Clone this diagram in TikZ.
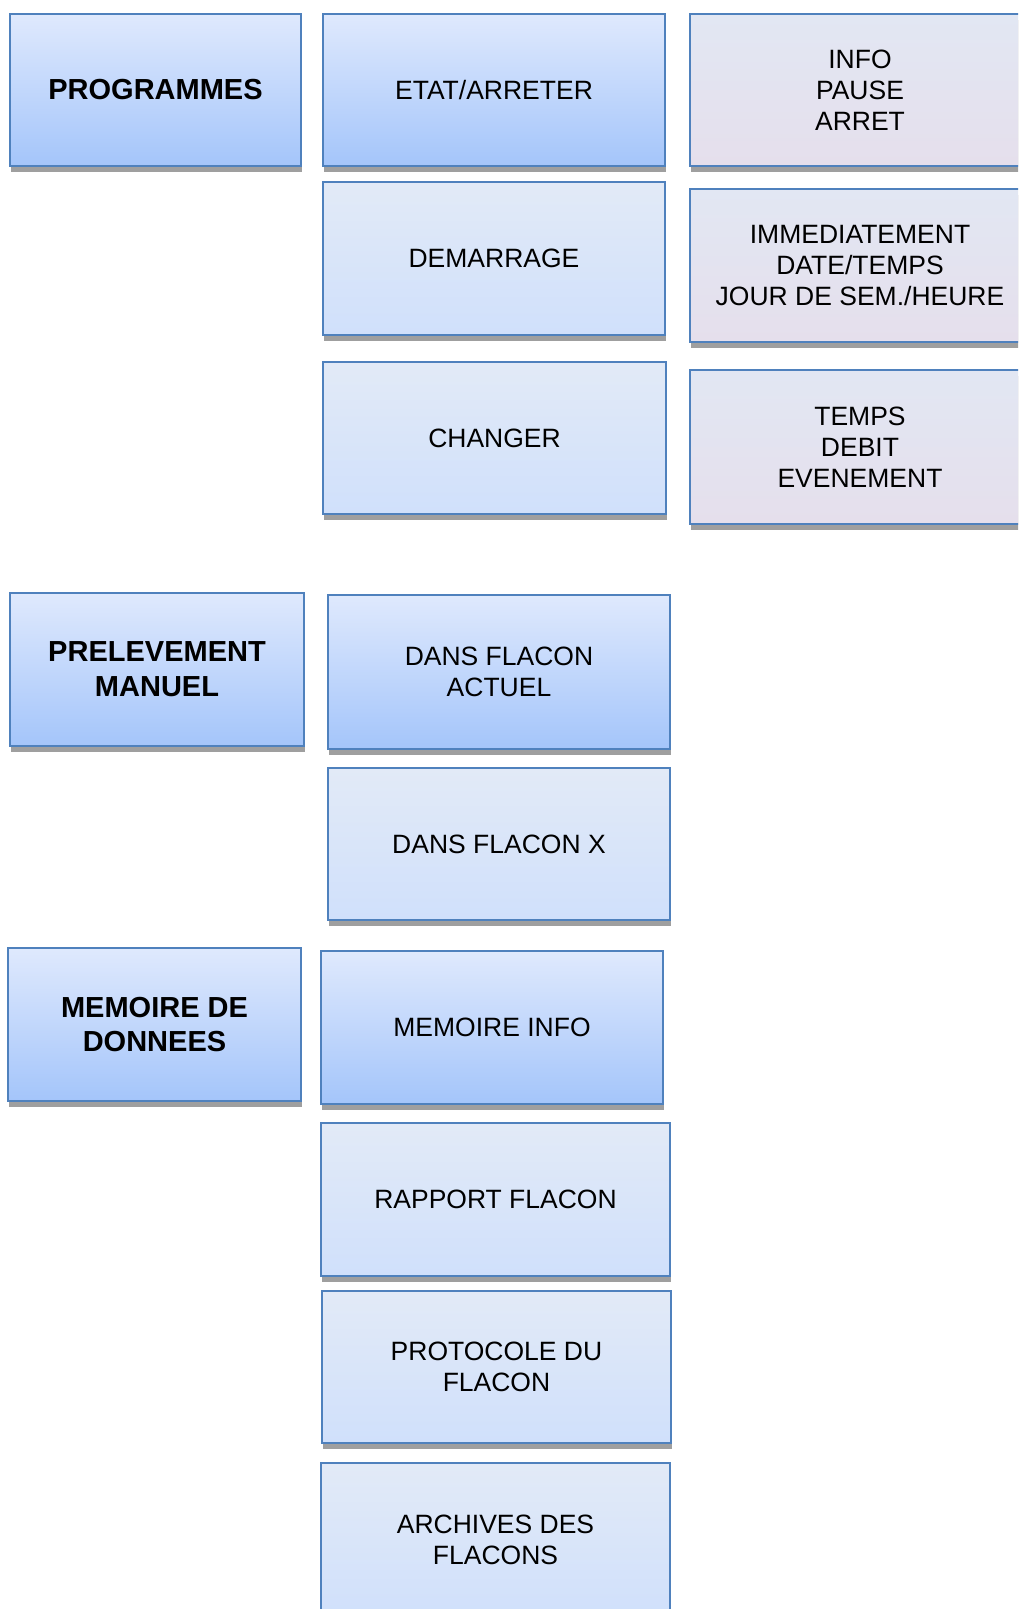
\documentclass[tikz,border=0pt]{standalone}
\usepackage{fontspec}
\setmainfont{Liberation Sans}
\usetikzlibrary{shadows}

\definecolor{boxline}{HTML}{4F81BD}
\definecolor{darktop}{HTML}{DFE9FD}
\definecolor{darkbot}{HTML}{A4C5FA}
\definecolor{lighttop}{HTML}{E2EAF7}
\definecolor{lightbot}{HTML}{D0E0FB}
\definecolor{lilactop}{HTML}{E2E7F3}
\definecolor{lilacbot}{HTML}{E5DFEC}

\begin{document}
\begin{tikzpicture}[x=0.5pt,y=-0.5pt,
        menubox/.style={rectangle,draw=boxline,line width=1pt,inner sep=0pt,align=center,
            drop shadow={shadow xshift=0.6pt,shadow yshift=-3pt,fill=gray!75,opacity=1}},
        headbox/.style={menubox,top color=darktop,bottom color=darkbot,
            font=\fontsize{14.5}{17.4}\selectfont\bfseries},
        darkbox/.style={menubox,top color=darktop,bottom color=darkbot,
            font=\fontsize{13.25}{15.4}\selectfont},
        lightbox/.style={menubox,top color=lighttop,bottom color=lightbot,
            font=\fontsize{13.25}{15.4}\selectfont},
        lilacbox/.style={menubox,top color=lilactop,bottom color=lilacbot,
            font=\fontsize{13.25}{15.4}\selectfont}]
        \useasboundingbox (0,0) rectangle (1018,1609);
        \clip (0,0) rectangle (1018,1609);
        % programmes
        \node [headbox,minimum width=145.5pt,minimum height=76pt] (prog) at (155.5,90) {PROGRAMMES};
        \node [darkbox,minimum width=171pt,minimum height=76pt] (etat) at (494,90) {ETAT/ARRETER};
        \node [lilacbox,minimum width=170pt,minimum height=76pt] (info) at (860,90) {INFO\\PAUSE\\ARRET};
        \node [lightbox,minimum width=171pt,minimum height=76.5pt] (demarrage) at (494,258.5) {DEMARRAGE};
        \node [lilacbox,minimum width=170pt,minimum height=76.5pt] (quand) at (860,265.5) {IMMEDIATEMENT\\DATE/TEMPS\\JOUR DE SEM./HEURE};
        \node [lightbox,minimum width=171.5pt,minimum height=76pt] (changer) at (494.5,438) {CHANGER};
        \node [lilacbox,minimum width=170pt,minimum height=77pt] (mode) at (860,447) {TEMPS\\DEBIT\\EVENEMENT};
        % prelevement manuel
        \node [headbox,minimum width=147pt,minimum height=76.5pt] (prelev) at (157,669.5) {PRELEVEMENT\\MANUEL};
        \node [darkbox,minimum width=171pt,minimum height=77pt] (actuel) at (499,672) {DANS FLACON\\ACTUEL};
        \node [lightbox,minimum width=171pt,minimum height=76pt] (flaconx) at (499,844) {DANS FLACON X};
        % memoire de donnees
        \node [headbox,minimum width=146.5pt,minimum height=76.5pt] (memoire) at (154.5,1024.5) {MEMOIRE DE\\DONNEES};
        \node [darkbox,minimum width=171pt,minimum height=76.5pt] (meminfo) at (492,1027.5) {MEMOIRE INFO};
        \node [lightbox,minimum width=174.5pt,minimum height=76.5pt] (rapport) at (495.5,1199.5) {RAPPORT FLACON};
        \node [lightbox,minimum width=174.5pt,minimum height=76pt] (protocole) at (496.5,1367) {PROTOCOLE DU\\FLACON};
        \node [lightbox,minimum width=174.5pt,minimum height=77pt] (archives) at (495.5,1540) {ARCHIVES DES\\FLACONS};
\end{tikzpicture}
\end{document}
